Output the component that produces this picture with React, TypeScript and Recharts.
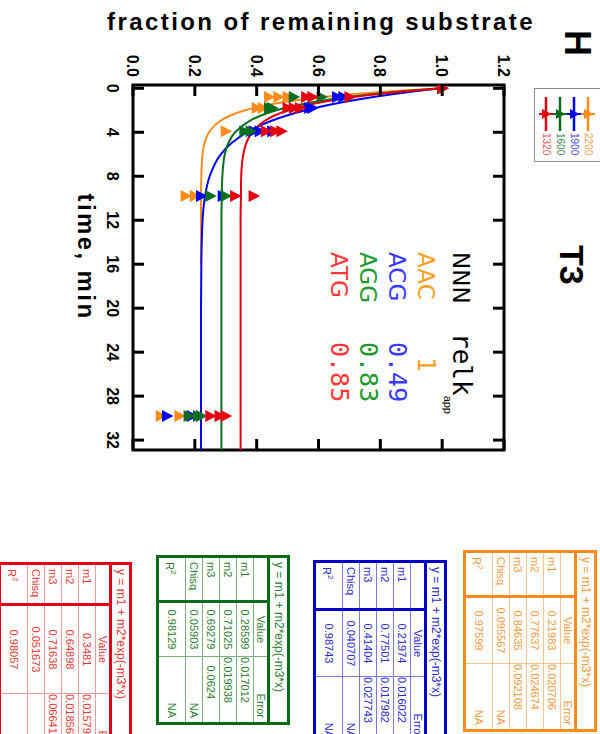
import React from 'react'
import { ComposedChart, Line, Scatter, XAxis, YAxis, ReferenceArea, Legend } from 'recharts'

// the figure is laid out landscape (734 x 600) and then turned 90deg clockwise
const W = 734
const H = 600
const PLOT_LEFT = 85
const PLOT_TOP = 96
const PLOT_W = 365
const PLOT_H = 371

const SANS = '"Liberation Sans", Arial, sans-serif'
const DEJAVU = '"DejaVu Sans", sans-serif'
const MONO = '"DejaVu Sans Mono", monospace'

const timeTicks = [0, 4, 8, 12, 16, 20, 24, 28, 32]
const fracTicks = [0, 0.2, 0.4, 0.6, 0.8, 1.0, 1.2]

const seriesNames = ['2200', '1900', '1600', '1320']
const seriesColors = ['#ff8c1a', '#0000f0', '#0b6e1f', '#e3000f']
const legendTextColors = ['#f7a04a', '#4a4ae8', '#3f8a4a', '#e85a5a']

// fitted curves
const fitTimes = [0, 0.25, 0.5, 0.75, 1, 1.5, 2, 2.5, 3, 4, 5, 6, 8, 10, 12, 16, 20, 24, 28, 32.9]
const orangeFit = [0.996, 0.848, 0.728, 0.631, 0.553, 0.438, 0.363, 0.313, 0.281, 0.246, 0.231, 0.225, 0.221, 0.22, 0.22, 0.22]
const blueFit = [0.995, 0.919, 0.85, 0.788, 0.732, 0.636, 0.558, 0.495, 0.444, 0.368, 0.318, 0.284, 0.248, 0.232, 0.225, 0.221, 0.22, 0.22, 0.22, 0.22]
const greenFit = [0.996, 0.883, 0.788, 0.709, 0.641, 0.537, 0.464, 0.412, 0.375, 0.33, 0.308, 0.297, 0.289, 0.287, 0.286, 0.286, 0.286, 0.286, 0.286, 0.286]
const redFit = [0.997, 0.891, 0.802, 0.727, 0.665, 0.57, 0.503, 0.456, 0.424, 0.385, 0.366, 0.357, 0.35, 0.349, 0.348, 0.348, 0.348, 0.348, 0.348, 0.348]

// measured points (replicates per sampling time)
const sampleTimes = [0, 0.8, 1.8, 3.9, 9.8, 29.8]
const orangePts = [[1.0], [0.44, 0.47, 0.5], [0.4, 0.42], [0.3], [0.17, 0.2], [0.09, 0.15]]
const bluePts = [[1.0], [0.66, 0.68], [0.57, 0.58], [0.39, 0.41, 0.45], [0.22, 0.29], [0.11, 0.19]]
const greenPts = [[1.0], [0.52, 0.61], [0.44, 0.45], [0.36, 0.38], [0.25, 0.3], [0.18, 0.21, 0.22]]
const redPts = [[1.0], [0.56, 0.58, 0.7], [0.5, 0.52, 0.54], [0.43, 0.46, 0.48], [0.33, 0.39], [0.25, 0.28, 0.3]]

const nnnLabels = ['AAC', 'ACG', 'AGG', 'ATG']
const relK = ['1', '0.49', '0.83', '0.85']
const nnnColors = ['#ffa024', '#3b3bff', '#1f9a2f', '#ff3838']

const paramLabels = ['m1', 'm2', 'm3', 'Chisq']
const orangeValues = ['0.21983', '0.77637', '0.84635', '0.095567', '0.97599']
const orangeErrors = ['0.020706', '0.024674', '0.092108']
const blueValues = ['0.21974', '0.77501', '0.41404', '0.040707', '0.98743']
const blueErrors = ['0.016022', '0.017982', '0.027743']
const greenValues = ['0.28599', '0.71025', '0.69279', '0.05903', '0.98129']
const greenErrors = ['0.017012', '0.019938', '0.0624']
const redValues = ['0.3481', '0.64898', '0.71638', '0.051673', '0.98057']
const redErrors = ['0.015798', '0.018565', '0.066412']

const toCurve = (vals: number[]) => vals.map((v, i) => ({ t: fitTimes[i], v }))
const toPoints = (rows: number[][]) => rows.flatMap((vs, i) => vs.map((v) => ({ t: sampleTimes[i], v })))

const curves = [orangeFit, blueFit, greenFit, redFit].map(toCurve)
const points = [orangePts, bluePts, greenPts, redPts].map(toPoints)

const triangle = (color: string) => (props: any) => {
  const { cx, cy } = props
  if (cx == null || cy == null) return null
  return <polygon points={`${cx},${cy - 6.5} ${cx - 6},${cy + 5} ${cx + 6},${cy + 5}`} fill={color} />
}

function TimeTick(props: any) {
  const { x, payload } = props
  const bottom = PLOT_TOP + PLOT_H
  return (
    <g>
      <line x1={x} x2={x} y1={bottom} y2={bottom - 11} stroke="#000" strokeWidth={3} />
      <line x1={x} x2={x} y1={PLOT_TOP} y2={PLOT_TOP + 11} stroke="#000" strokeWidth={3} />
      <text x={x} y={bottom + 26} textAnchor="middle" fontSize={16} fontWeight="bold" fontFamily={SANS} fill="#000">
        {payload.value}
      </text>
    </g>
  )
}

function FracTick(props: any) {
  const { y, payload } = props
  const right = PLOT_LEFT + PLOT_W
  return (
    <g>
      <line x1={PLOT_LEFT} x2={PLOT_LEFT + 11} y1={y} y2={y} stroke="#000" strokeWidth={3} />
      <line x1={right} x2={right - 11} y1={y} y2={y} stroke="#000" strokeWidth={3} />
      <text x={PLOT_LEFT - 8} y={y + 6} textAnchor="end" fontSize={16} fontWeight="bold" fontFamily={SANS} fill="#000">
        {payload.value.toFixed(1)}
      </text>
    </g>
  )
}

function LegendBox() {
  return (
    <div style={{ border: '1px solid #8a8a8a', padding: '14px 6px 4px 8px', background: '#fff' }}>
      {seriesNames.map((n, i) => {
        const c = seriesColors[i]
        return (
          <div key={n} style={{ display: 'flex', alignItems: 'center', height: 14 }}>
            <svg width={34} height={14} style={{ display: 'block' }}>
              <line x1={0} x2={34} y1={7} y2={7} stroke={c} strokeWidth={2.5} />
              <line x1={17} x2={17} y1={0} y2={14} stroke={c} strokeWidth={2} />
              <polygon points="17,1.5 12,11 22,11" fill={c} />
            </svg>
            <span style={{ fontSize: 10, lineHeight: '10px', color: legendTextColors[i], marginLeft: 2, fontFamily: SANS }}>{n}</span>
          </div>
        )
      })}
    </div>
  )
}

interface TableProps {
  left: number
  top: number
  cols: number[]
  edge: string
  thin: string
  ink: string
  values: string[]
  errors: string[]
}

function FitTable({ left, top, cols, edge, thin, ink, values, errors }: TableProps) {
  const rowH = [20, 15, 17, 17, 17, 17, 28]
  const base: React.CSSProperties = {
    padding: 0,
    borderBottom: `1px solid ${thin}`,
    borderRight: `1px solid ${thin}`,
    whiteSpace: 'nowrap',
    overflow: 'hidden',
    lineHeight: '11px',
  }
  const lab: React.CSSProperties = { ...base, borderRight: `3px solid ${edge}`, textAlign: 'left', paddingLeft: 4 }
  const val: React.CSSProperties = { ...base, textAlign: 'center' }
  const err: React.CSSProperties = { ...base, textAlign: 'right', paddingRight: cols[2] - 44 }
  const na: React.CSSProperties = { ...base, textAlign: 'right', paddingRight: 4 }
  const rows = paramLabels.map((p, i) => (
    <tr key={p} style={{ height: rowH[i + 2] }}>
      <td style={lab}>{p}</td>
      <td style={val}>{values[i]}</td>
      <td style={i < 3 ? err : na}>{i < 3 ? errors[i] : 'NA'}</td>
    </tr>
  ))
  return (
    <table
      style={{
        position: 'absolute',
        left,
        top,
        borderCollapse: 'collapse',
        tableLayout: 'fixed',
        width: cols[0] + cols[1] + cols[2],
        border: `3px solid ${edge}`,
        fontFamily: SANS,
        fontSize: 11,
        color: ink,
        background: '#fff',
      }}
    >
      <colgroup>
        {cols.map((w, i) => (
          <col key={i} style={{ width: w }} />
        ))}
      </colgroup>
      <tbody>
        <tr style={{ height: rowH[0] }}>
          <td colSpan={3} style={{ ...base, borderBottom: `3px solid ${edge}`, textAlign: 'left', paddingLeft: 4, fontSize: 12 }}>
            y = m1 + m2*exp(-m3*x)
          </td>
        </tr>
        <tr style={{ height: rowH[1] }}>
          <td style={lab}></td>
          <td style={val}>Value</td>
          <td style={na}>Error</td>
        </tr>
        {rows}
        <tr style={{ height: rowH[6] }}>
          <td style={{ ...lab, borderBottom: 'none' }}>
            R<sup style={{ fontSize: 8 }}>2</sup>
          </td>
          <td style={{ ...val, borderBottom: 'none' }}>{values[4]}</td>
          <td style={{ ...na, borderBottom: 'none' }}>NA</td>
        </tr>
      </tbody>
    </table>
  )
}

export default function App() {
  const Y_AXIS_W = 60
  const X_AXIS_H = 30
  return (
    <div style={{ position: 'absolute', left: 0, top: 0, width: 600, height: 734, overflow: 'hidden', background: '#fff' }}>
      <div
        style={{
          position: 'absolute',
          left: 0,
          top: 0,
          width: W,
          height: H,
          transformOrigin: '0 0',
          transform: 'translate(600px, 0) rotate(90deg)',
        }}
      >
        <ComposedChart
          width={W}
          height={H}
          margin={{
            top: PLOT_TOP,
            right: W - PLOT_LEFT - PLOT_W,
            bottom: H - PLOT_TOP - PLOT_H - X_AXIS_H,
            left: PLOT_LEFT - Y_AXIS_W,
          }}
        >
          <XAxis
            dataKey="t"
            type="number"
            domain={[-0.3, 32.9]}
            ticks={timeTicks}
            allowDataOverflow
            axisLine={false}
            tickLine={false}
            tickSize={0}
            tick={<TimeTick />}
            height={X_AXIS_H}
          />
          <YAxis
            dataKey="v"
            type="number"
            domain={[0, 1.2]}
            ticks={fracTicks}
            allowDataOverflow
            axisLine={false}
            tickLine={false}
            tickSize={0}
            tick={<FracTick />}
            width={Y_AXIS_W}
          />
          <ReferenceArea x1={-0.3} x2={32.9} y1={0} y2={1.2} fill="none" stroke="#000" strokeWidth={3} />
          {curves.map((d, i) => (
            <Line
              key={'fit' + i}
              data={d}
              dataKey="v"
              name={seriesNames[i]}
              type="monotone"
              stroke={seriesColors[i]}
              strokeWidth={2}
              dot={false}
              activeDot={false}
              isAnimationActive={false}
            />
          ))}
          {points.map((d, i) => (
            <Scatter
              key={'pts' + i}
              data={d}
              dataKey="v"
              legendType="none"
              shape={triangle(seriesColors[i])}
              isAnimationActive={false}
            />
          ))}
          <Legend
            layout="vertical"
            align="center"
            verticalAlign="middle"
            content={<LegendBox />}
            wrapperStyle={{ left: 88, top: -10, width: 'auto' }}
          />
        </ComposedChart>

        <svg width={W} height={H} style={{ position: 'absolute', left: 0, top: 0, pointerEvents: 'none' }}>
          <text x={30} y={35} fontSize={36} fontWeight="bold" fontFamily={SANS}>H</text>
          <text x={245} y={40} fontSize={34} fontWeight="bold" fontFamily={SANS}>T3</text>
          <text
            transform="translate(30, 279) rotate(-90)"
            textAnchor="middle"
            fontSize={24}
            fontWeight="bold"
            letterSpacing={2.4}
            fontFamily={SANS}
          >
            fraction of remaining substrate
          </text>
          <text x={257} y={522} textAnchor="middle" fontSize={24} fontWeight="bold" letterSpacing={2.4} fontFamily={SANS}>
            time, min
          </text>
          <text x={252} y={147} fontSize={23} fontFamily={DEJAVU}>NNN</text>
          <text x={333} y={147} fontSize={26} fontFamily={MONO}>
            relk<tspan fontSize={11} fontFamily={SANS} dy={9}>app</tspan>
          </text>
          {nnnLabels.map((n, i) => (
            <g key={n}>
              <text x={252} y={182 + i * 29} fontSize={23} fontFamily={DEJAVU} fill={nnnColors[i]}>{n}</text>
              <text x={i === 0 ? 357 : 342} y={182 + i * 29} fontSize={25} fontFamily={MONO} fill={nnnColors[i]}>{relK[i]}</text>
            </g>
          ))}
        </svg>

        <FitTable left={550} top={3} cols={[45, 67, 67]} edge="#ff8c1a" thin="#ffc58a" ink="#f59a3c" values={orangeValues} errors={orangeErrors} />
        <FitTable left={560} top={153} cols={[48, 67, 67]} edge="#0000c8" thin="#7a7ae6" ink="#2a2ad0" values={blueValues} errors={blueErrors} />
        <FitTable left={555} top={310} cols={[45, 55, 67]} edge="#0a6b1a" thin="#7fae7f" ink="#2e7d32" values={greenValues} errors={greenErrors} />
        <FitTable left={562} top={468} cols={[41, 89, 67]} edge="#e0001b" thin="#f39a9a" ink="#e53935" values={redValues} errors={redErrors} />
      </div>
    </div>
  )
}
